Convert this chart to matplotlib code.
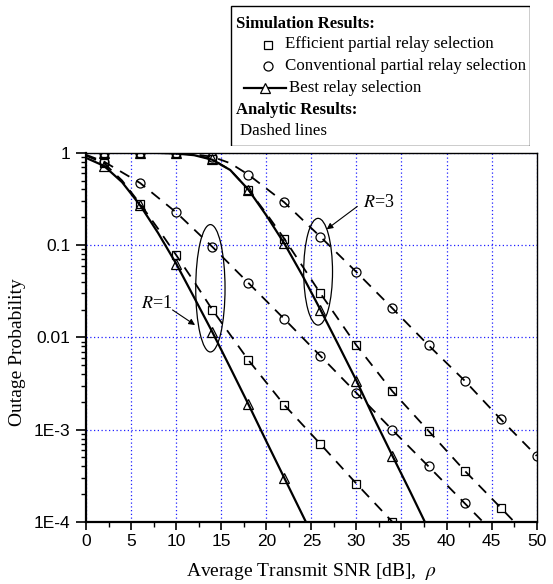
import matplotlib
matplotlib.use("Agg")
import matplotlib.pyplot as plt
from matplotlib.patches import Ellipse, Rectangle
from matplotlib.ticker import FixedLocator, LogLocator, NullFormatter, FixedFormatter

plt.rcParams["font.family"] = "Liberation Serif"
plt.rcParams["mathtext.fontset"] = "stix"

# ---- simulation results (markers) ----
snr_r1_eff = [2, 6, 10, 14, 18, 22, 26, 30, 34]
pout_r1_eff = [0.77, 0.275, 0.078, 0.020, 0.0057, 0.00185, 7.0e-4, 2.6e-4, 1.0e-4]
snr_r1_conv = [2, 6, 10, 14, 18, 22, 26, 30, 34, 38, 42]
pout_r1_conv = [0.80, 0.47, 0.226, 0.096, 0.039, 0.0158, 0.0063, 0.0025, 9.9e-4, 4.0e-4, 1.6e-4]
snr_r1_best = [2, 6, 10, 14, 18, 22]
pout_r1_best = [0.72, 0.27, 0.063, 0.0115, 0.0019, 3.0e-4]

snr_r3_eff = [2, 6, 10, 14, 18, 22, 26, 30, 34, 38, 42, 46]
pout_r3_eff = [1.0, 1.0, 0.995, 0.85, 0.39, 0.117, 0.030, 0.0082, 0.0026, 9.7e-4, 3.6e-4, 1.43e-4]
snr_r3_conv = [2, 6, 10, 14, 18, 22, 26, 30, 34, 38, 42, 46, 50]
pout_r3_conv = [1.0, 1.0, 0.998, 0.905, 0.58, 0.29, 0.123, 0.051, 0.0206, 0.0082, 0.0034, 0.0013, 5.2e-4]
snr_r3_best = [2, 6, 10, 14, 18, 22, 26, 30, 34]
pout_r3_best = [1.0, 1.0, 0.995, 0.85, 0.39, 0.104, 0.020, 0.0034, 5.2e-4]

# ---- analytic results (lines) ----
snr_a_r1_best = [0, 2, 4, 6, 8, 10, 12, 14, 16, 18, 20, 22, 24, 26]
a_r1_best = [0.88, 0.72, 0.48, 0.27, 0.135, 0.063, 0.027, 0.0115, 0.0047, 0.0019, 7.5e-4, 3.0e-4, 1.2e-4, 4.8e-5]
snr_a_r1_eff = [0, 2, 4, 6, 8, 10, 12, 14, 18, 22, 26, 30, 34, 36]
a_r1_eff = [0.93, 0.77, 0.50, 0.28, 0.15, 0.078, 0.040, 0.020, 0.0057, 0.00185, 7.0e-4, 2.6e-4, 1.0e-4, 6.2e-5]
snr_a_r1_conv = [0, 2, 6, 10, 14, 18, 22, 26, 30, 34, 38, 42, 46]
a_r1_conv = [0.95, 0.80, 0.47, 0.226, 0.096, 0.039, 0.0158, 0.0063, 0.0025, 9.9e-4, 4.0e-4, 1.6e-4, 6.4e-5]

snr_a_r3_best = [0, 4, 8, 10, 12, 14, 16, 18, 20, 22, 24, 26, 28, 30, 32, 34, 36, 38]
a_r3_best = [1.0, 1.0, 0.995, 0.98, 0.94, 0.84, 0.65, 0.40, 0.21, 0.104, 0.047, 0.020, 0.0083,
             0.0034, 0.0013, 5.2e-4, 2.1e-4, 8.3e-5]
snr_a_r3_eff = [0, 6, 8, 10, 12, 14, 16, 18, 20, 22, 26, 30, 34, 38, 42, 46, 50]
a_r3_eff = [1.0, 1.0, 0.998, 0.99, 0.95, 0.85, 0.65, 0.40, 0.22, 0.117, 0.030, 0.0082, 0.0026,
            9.7e-4, 3.6e-4, 1.43e-4, 5.6e-5]
snr_a_r3_conv = [0, 6, 8, 10, 12, 14, 16, 18, 20, 22, 26, 30, 34, 38, 42, 46, 50]
a_r3_conv = [1.0, 1.0, 0.998, 0.99, 0.96, 0.905, 0.77, 0.58, 0.41, 0.29, 0.123, 0.051, 0.0206,
             0.0082, 0.0034, 0.0013, 5.2e-4]

fig = plt.figure(figsize=(5.53, 5.84), dpi=100)
ax = fig.add_axes([0.1555, 0.1062, 0.815, 0.6323])

dash = dict(color="black", lw=1.3, dashes=(6, 4.5))
ax.plot(snr_a_r1_eff, a_r1_eff, **dash)
ax.plot(snr_a_r1_conv, a_r1_conv, **dash)
ax.plot(snr_a_r3_eff, a_r3_eff, **dash)
ax.plot(snr_a_r3_conv, a_r3_conv, **dash)
ax.plot(snr_a_r1_best, a_r1_best, color="black", lw=1.6)
ax.plot(snr_a_r3_best, a_r3_best, color="black", lw=1.6)

sq = dict(ls="none", marker="s", ms=6, mfc="none", mec="black", mew=0.9)
ci = dict(ls="none", marker="o", ms=6.5, mfc="none", mec="black", mew=0.9)
tr = dict(ls="none", marker="^", ms=7.5, mfc="none", mec="black", mew=0.9)
ax.plot(snr_r1_eff, pout_r1_eff, **sq)
ax.plot(snr_r3_eff, pout_r3_eff, **sq)
ax.plot(snr_r1_conv, pout_r1_conv, **ci)
ax.plot(snr_r3_conv, pout_r3_conv, **ci)
ax.plot(snr_r1_best, pout_r1_best, **tr)
ax.plot(snr_r3_best, pout_r3_best, **tr)

ax.set_yscale("log")
ax.set_xlim(0, 50)
ax.set_ylim(1e-4, 1)

ax.xaxis.set_major_locator(FixedLocator(range(0, 51, 5)))
ax.xaxis.set_minor_locator(FixedLocator([x + 2.5 for x in range(0, 50, 5)]))
ax.yaxis.set_major_locator(FixedLocator([1e-4, 1e-3, 1e-2, 1e-1, 1]))
ax.yaxis.set_major_formatter(FixedFormatter(["1E-4", "1E-3", "0.01", "0.1", "1"]))
ax.yaxis.set_minor_locator(LogLocator(base=10, subs=range(2, 10)))
ax.yaxis.set_minor_formatter(NullFormatter())
ax.tick_params(which="major", direction="out", length=6, width=1.2, pad=3)
ax.tick_params(which="minor", direction="out", length=3.5, width=1.0)
ax.tick_params(axis="y", which="major", length=7, pad=4)
for lab in ax.get_xticklabels() + ax.get_yticklabels():
    lab.set_family("Liberation Sans")
    lab.set_fontsize(12.5)

ax.grid(True, which="major", color="#2020ff", ls=(0, (1, 2)), lw=0.9)
ax.set_axisbelow(True)
for s in ["left", "bottom"]:
    ax.spines[s].set_linewidth(1.6)
for s in ["top", "right"]:
    ax.spines[s].set_linewidth(1.0)

ax.set_xlabel("Average Transmit SNR [dB],  $\\rho$", fontsize=14, va="center")
ax.xaxis.set_label_coords(0.5, -0.135)
ax.set_ylabel("Outage Probability", fontsize=14, va="center")
ax.yaxis.set_label_coords(-0.153, 0.459)

# ellipses and labels
def add_ellipse(x, y, w, h):
    cx, cy = ax.transAxes.inverted().transform(ax.transData.transform((x, y)))
    ax.add_patch(Ellipse((cx, cy), w, h, transform=ax.transAxes, fill=False,
                         ec="black", lw=0.9))

add_ellipse(13.8, 0.034, 0.065, 0.345)
add_ellipse(25.75, 0.0514, 0.064, 0.289)

arrow = dict(arrowstyle="-|>", color="black", lw=0.8, mutation_scale=9, shrinkA=0, shrinkB=0)
ax.text(7.8, 0.023, "$R$=1", fontsize=13, ha="center", va="center")
ax.annotate("", xy=(12.1, 0.0136), xytext=(9.6, 0.0198), arrowprops=arrow)
ax.text(32.5, 0.287, "$R$=3", fontsize=13, ha="center", va="center")
ax.annotate("", xy=(26.7, 0.148), xytext=(30.1, 0.262), arrowprops=arrow)

# legend box
lg = fig.add_axes([230 / 553, 1 - 146 / 584, 300 / 553, 141 / 584])
lg.set_xlim(0, 300)
lg.set_ylim(141, 0)
lg.axis("off")
lg.add_patch(Rectangle((0.5, 0.5), 299, 140, fill=False, ec="black", lw=1.0))
lg.text(6.5, 18.5, "Simulation Results:", fontsize=12, fontweight="bold", va="center")
lg.plot([38], [39.5], **sq)
lg.text(55, 39.5, "Efficient partial relay selection", fontsize=12.2, va="center")
lg.plot([38], [61], **ci)
lg.text(55, 61, "Conventional partial relay selection", fontsize=12.2, va="center")
lg.plot([14, 56], [83, 83], color="black", lw=1.6)
lg.plot([35], [83], marker="^", ms=7.5, mfc="white", mec="black", mew=0.9)
lg.text(59, 83, "Best relay selection", fontsize=12.2, va="center")
lg.text(6.5, 105.5, "Analytic Results:", fontsize=12, fontweight="bold", va="center")
lg.text(10.5, 126, "Dashed lines", fontsize=12.2, va="center")

fig.savefig("out.png", dpi=100)
